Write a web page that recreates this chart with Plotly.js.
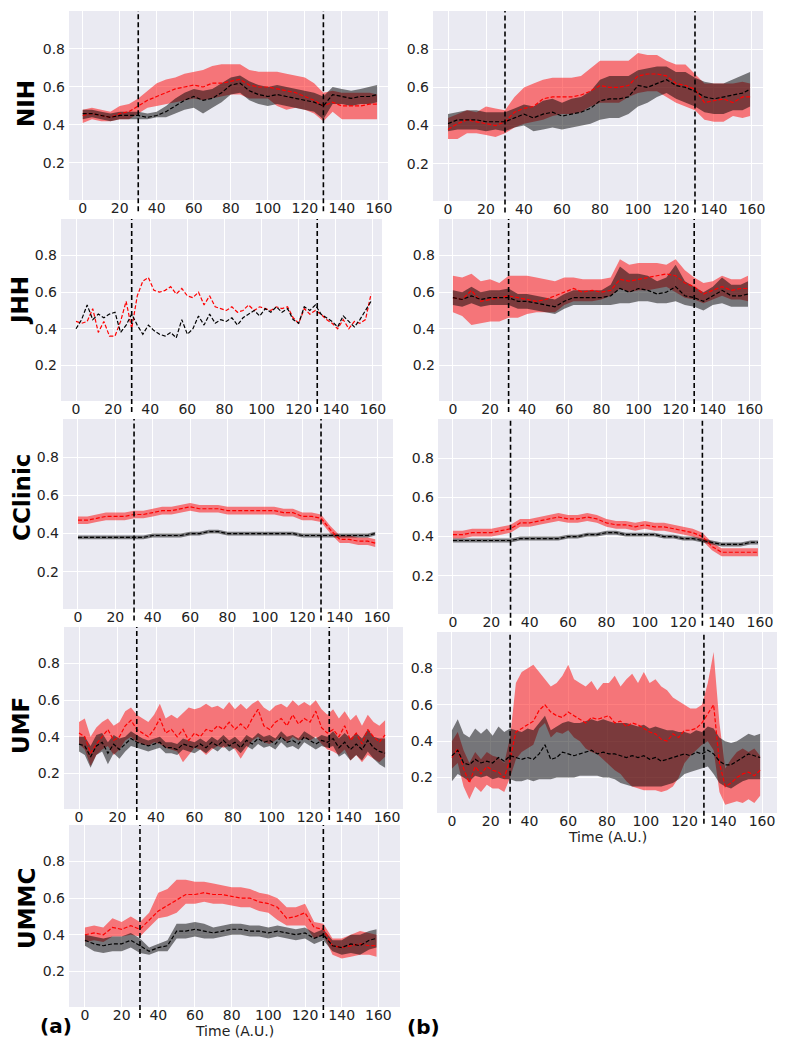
<!DOCTYPE html>
<html><head><meta charset="utf-8">
<script src="https://cdn.plot.ly/plotly-3.0.1.min.js"></script>
<style>html,body{margin:0;padding:0;background:#fff}#chart{width:787px;height:1050px}</style>
</head><body><div id="chart"></div>
<script>
// ---------------- DATA ----------------
const T  = [0,5,10,15,20,25,30,35,40,45,50,55,60,65,70,75,80,85,90,95,100,105,110,115,120,125,130,135,140,145,150,155,159];
const TJ = [0,3,6,9,12,15,18,21,24,27,30,33,36,39,42,45,48,51,54,57,60,63,66,69,72,75,78,81,84,87,90,93,96,99,102,105,108,111,114,117,120,123,126,129,132,135,138,141,144,147,150,153,156,159];
const XTICKS = [0,20,40,60,80,100,120,140,160];
const YTICKS = [0.2,0.4,0.6,0.8];
const STIM = [30,130];
const SITES = ['NIH','JHH','CClinic','UMF','UMMC'];

// NIH (a)
const nihA_bMean=[.46,.46,.45,.44,.45,.45,.45,.44,.45,.47,.50,.53,.55,.53,.54,.57,.61,.62,.58,.56,.55,.56,.55,.54,.53,.52,.50,.56,.55,.54,.55,.55,.56];
const nihA_bLo  =[.43,.44,.43,.42,.43,.43,.43,.43,.44,.44,.46,.48,.49,.46,.49,.52,.56,.57,.53,.51,.50,.51,.50,.49,.48,.47,.43,.51,.51,.50,.51,.51,.52];
const nihA_bHi  =[.48,.48,.47,.46,.47,.47,.47,.46,.47,.50,.54,.57,.59,.58,.59,.62,.65,.66,.63,.61,.60,.61,.60,.59,.58,.57,.55,.60,.59,.58,.59,.60,.61];
const nihA_rMean=[.45,.46,.45,.44,.46,.47,.50,.53,.55,.57,.59,.60,.61,.60,.62,.62,.63,.64,.61,.60,.60,.59,.58,.57,.55,.53,.50,.52,.50,.50,.50,.51,.51];
const nihA_rLo  =[.41,.43,.42,.42,.43,.43,.46,.49,.50,.51,.52,.53,.54,.53,.54,.55,.56,.56,.54,.54,.54,.50,.48,.49,.48,.46,.42,.47,.43,.43,.43,.43,.43];
const nihA_rHi  =[.48,.49,.48,.47,.50,.51,.54,.58,.62,.64,.65,.67,.68,.69,.71,.72,.72,.72,.69,.68,.68,.68,.67,.66,.65,.62,.57,.58,.57,.57,.57,.57,.56];
// NIH (b)
const nihB_bMean=[.41,.43,.43,.43,.42,.42,.42,.44,.46,.44,.46,.47,.45,.46,.47,.49,.53,.54,.54,.55,.61,.60,.62,.64,.61,.60,.58,.55,.54,.55,.56,.57,.59];
const nihB_bLo  =[.37,.38,.38,.38,.37,.38,.37,.39,.40,.37,.38,.39,.38,.39,.40,.41,.43,.44,.44,.46,.50,.52,.55,.57,.54,.52,.50,.47,.46,.46,.48,.48,.50];
const nihB_bHi  =[.46,.47,.48,.48,.47,.47,.47,.49,.51,.50,.53,.54,.52,.54,.55,.58,.64,.66,.66,.66,.69,.70,.71,.71,.68,.68,.65,.63,.62,.62,.64,.66,.68];
const nihB_rMean=[.38,.41,.43,.42,.41,.40,.42,.47,.49,.50,.54,.55,.55,.55,.56,.58,.61,.60,.60,.61,.66,.67,.67,.66,.62,.61,.59,.52,.53,.54,.52,.55,.55];
const nihB_rLo  =[.33,.33,.36,.36,.35,.34,.36,.39,.41,.42,.43,.45,.46,.46,.47,.50,.52,.52,.52,.55,.57,.58,.58,.55,.52,.50,.48,.43,.42,.42,.45,.44,.45];
const nihB_rHi  =[.44,.46,.48,.47,.50,.49,.48,.55,.60,.62,.64,.65,.65,.65,.66,.70,.74,.74,.74,.74,.78,.77,.77,.74,.72,.72,.67,.62,.62,.62,.62,.63,.62];
// JHH (a) - single traces, sampled on TJ
const jhhA_r=[.44,.43,.44,.51,.38,.44,.36,.36,.44,.55,.40,.58,.66,.68,.61,.60,.61,.63,.59,.62,.58,.57,.60,.53,.58,.52,.51,.50,.52,.49,.50,.53,.50,.52,.51,.50,.52,.51,.52,.46,.43,.51,.48,.50,.48,.45,.43,.40,.45,.40,.44,.43,.45,.59];
const jhhA_b=[.40,.45,.53,.45,.48,.46,.48,.49,.38,.42,.48,.42,.37,.42,.39,.37,.36,.38,.35,.45,.37,.40,.47,.42,.48,.43,.45,.44,.46,.42,.46,.48,.50,.47,.51,.49,.52,.49,.51,.45,.43,.52,.50,.53,.48,.46,.44,.41,.47,.44,.41,.45,.50,.55];
// JHH (b)
const jhhB_bMean=[.57,.56,.58,.56,.57,.57,.57,.55,.55,.54,.53,.52,.55,.57,.57,.57,.57,.58,.62,.60,.62,.61,.59,.60,.63,.58,.57,.55,.58,.61,.58,.58,.59];
const jhhB_bLo  =[.53,.52,.54,.52,.53,.53,.53,.51,.51,.50,.49,.48,.51,.53,.53,.53,.53,.53,.54,.54,.55,.55,.54,.54,.55,.53,.52,.50,.53,.54,.52,.52,.52];
const jhhB_bHi  =[.61,.60,.63,.60,.61,.61,.62,.59,.59,.58,.57,.56,.59,.61,.61,.61,.61,.64,.74,.70,.70,.69,.66,.68,.75,.66,.63,.60,.63,.68,.64,.64,.66];
const jhhB_rMean=[.57,.56,.61,.55,.56,.57,.58,.57,.56,.55,.56,.58,.60,.62,.60,.61,.60,.61,.67,.66,.67,.68,.69,.70,.69,.65,.63,.59,.61,.63,.61,.62,.62];
const jhhB_rLo  =[.49,.47,.42,.43,.44,.44,.46,.46,.48,.49,.49,.49,.53,.55,.55,.55,.56,.58,.62,.60,.61,.61,.62,.63,.60,.57,.56,.54,.56,.58,.56,.56,.55];
const jhhB_rHi  =[.69,.68,.70,.66,.67,.65,.69,.69,.69,.68,.67,.66,.68,.68,.67,.67,.67,.68,.78,.75,.76,.76,.76,.75,.78,.72,.68,.65,.66,.69,.67,.67,.69];
// CClinic (a)
const ccA_bMean=[.38,.38,.38,.38,.38,.38,.38,.38,.39,.39,.39,.39,.40,.40,.41,.41,.40,.40,.40,.40,.40,.40,.40,.40,.39,.39,.39,.39,.39,.39,.39,.39,.40];
const ccA_bLo  =[.37,.37,.37,.37,.37,.37,.37,.37,.38,.38,.38,.38,.39,.39,.40,.40,.39,.39,.39,.39,.39,.39,.39,.39,.38,.38,.38,.38,.38,.38,.38,.38,.39];
const ccA_bHi  =[.39,.39,.39,.39,.39,.39,.39,.39,.40,.40,.40,.40,.41,.41,.42,.42,.41,.41,.41,.41,.41,.41,.41,.41,.40,.40,.40,.40,.40,.40,.40,.40,.41];
const ccA_rMean=[.47,.47,.48,.49,.49,.49,.50,.50,.51,.52,.52,.53,.54,.53,.53,.53,.52,.52,.52,.52,.52,.52,.51,.51,.49,.49,.48,.42,.37,.37,.36,.36,.35];
const ccA_rLo  =[.45,.45,.46,.47,.47,.47,.48,.48,.49,.50,.50,.51,.52,.51,.51,.51,.50,.50,.50,.50,.50,.50,.49,.49,.47,.47,.46,.40,.35,.35,.34,.34,.33];
const ccA_rHi  =[.49,.49,.50,.51,.51,.51,.52,.52,.53,.54,.54,.55,.56,.55,.55,.55,.54,.54,.54,.54,.54,.54,.53,.53,.51,.51,.50,.44,.39,.39,.38,.38,.37];
// CClinic (b)
const ccB_bMean=[.38,.38,.38,.38,.38,.38,.38,.39,.39,.39,.39,.39,.40,.40,.41,.41,.42,.42,.41,.41,.41,.41,.40,.40,.39,.39,.38,.37,.36,.36,.36,.37,.37];
const ccB_bLo  =[.37,.37,.37,.37,.37,.37,.37,.38,.38,.38,.38,.38,.39,.39,.40,.40,.41,.41,.40,.40,.40,.40,.39,.39,.38,.38,.37,.36,.35,.35,.35,.36,.36];
const ccB_bHi  =[.39,.39,.39,.39,.39,.39,.39,.40,.40,.40,.40,.40,.41,.41,.42,.42,.43,.43,.42,.42,.42,.42,.41,.41,.40,.40,.39,.38,.37,.37,.37,.38,.38];
const ccB_rMean=[.41,.41,.42,.42,.42,.43,.44,.47,.47,.48,.49,.50,.49,.49,.50,.49,.47,.46,.46,.45,.46,.45,.45,.44,.43,.42,.40,.35,.32,.32,.32,.32,.32];
const ccB_rLo  =[.39,.39,.40,.40,.40,.41,.42,.45,.45,.46,.47,.48,.47,.47,.48,.47,.45,.44,.44,.43,.44,.43,.43,.42,.41,.40,.38,.33,.30,.30,.30,.30,.30];
const ccB_rHi  =[.43,.43,.44,.44,.44,.45,.46,.49,.49,.50,.51,.52,.51,.51,.52,.51,.49,.48,.48,.47,.48,.47,.47,.46,.45,.44,.42,.37,.34,.34,.34,.34,.34];
// UMF (a) - sampled on TJ
const umfA_bMean=[.36,.35,.29,.35,.37,.31,.36,.33,.36,.39,.37,.36,.35,.36,.37,.34,.34,.33,.36,.35,.34,.36,.34,.37,.35,.38,.35,.37,.34,.38,.36,.39,.37,.38,.36,.40,.37,.38,.36,.40,.38,.36,.38,.37,.39,.34,.37,.33,.36,.33,.38,.34,.32,.31];
const umfA_bLo  =[.32,.30,.23,.30,.32,.25,.31,.28,.32,.35,.34,.33,.32,.33,.34,.31,.31,.30,.33,.32,.31,.33,.31,.34,.32,.35,.32,.34,.31,.35,.33,.36,.34,.35,.33,.37,.34,.35,.33,.37,.35,.33,.35,.34,.35,.29,.31,.27,.30,.27,.32,.28,.25,.23];
const umfA_bHi  =[.40,.40,.35,.41,.42,.37,.41,.39,.40,.43,.41,.39,.38,.39,.40,.37,.37,.36,.39,.38,.37,.39,.37,.40,.38,.41,.38,.40,.37,.41,.39,.42,.40,.41,.39,.43,.40,.41,.39,.43,.41,.39,.41,.40,.43,.39,.42,.39,.42,.39,.44,.40,.39,.39];
const umfA_rMean=[.42,.40,.31,.36,.40,.44,.38,.40,.46,.49,.44,.42,.40,.44,.50,.42,.44,.40,.44,.38,.42,.40,.44,.43,.46,.44,.48,.44,.47,.44,.50,.55,.46,.44,.48,.50,.46,.52,.47,.50,.48,.54,.45,.42,.44,.40,.46,.38,.42,.36,.44,.40,.37,.41];
const umfA_rLo  =[.36,.33,.24,.30,.33,.35,.30,.33,.38,.40,.37,.36,.35,.37,.36,.34,.33,.32,.26,.30,.34,.33,.30,.33,.35,.34,.35,.33,.28,.33,.38,.40,.37,.36,.38,.40,.37,.40,.38,.39,.38,.40,.36,.33,.32,.30,.33,.27,.30,.26,.30,.28,.26,.29];
const umfA_rHi  =[.48,.50,.40,.45,.48,.50,.46,.48,.54,.56,.52,.50,.48,.52,.58,.50,.52,.50,.53,.56,.55,.56,.58,.56,.57,.55,.59,.55,.58,.55,.58,.60,.56,.54,.57,.58,.56,.60,.57,.59,.57,.60,.55,.52,.55,.50,.54,.49,.52,.46,.52,.48,.46,.49];
// UMF (b) - sampled on TJ
const umfB_bMean=[.32,.35,.28,.27,.30,.28,.29,.28,.31,.29,.32,.31,.30,.31,.30,.33,.38,.30,.31,.34,.33,.32,.33,.34,.35,.33,.34,.33,.33,.32,.31,.32,.31,.32,.30,.31,.29,.30,.31,.32,.33,.32,.34,.33,.35,.33,.29,.27,.27,.29,.31,.33,.32,.31];
const umfB_bLo  =[.18,.22,.20,.18,.21,.20,.21,.19,.20,.19,.19,.18,.18,.19,.18,.19,.19,.19,.20,.20,.20,.20,.21,.21,.21,.21,.20,.20,.19,.17,.16,.15,.15,.15,.15,.15,.15,.16,.17,.19,.22,.23,.24,.25,.26,.22,.17,.15,.14,.16,.18,.19,.19,.19];
const umfB_bHi  =[.46,.52,.44,.42,.47,.44,.47,.43,.48,.45,.47,.46,.45,.47,.46,.50,.54,.46,.48,.50,.51,.50,.50,.51,.52,.51,.52,.51,.50,.50,.50,.49,.48,.49,.47,.48,.47,.46,.46,.45,.45,.44,.46,.45,.48,.47,.42,.40,.39,.40,.42,.44,.43,.44];
const umfB_rMean=[.31,.36,.25,.17,.26,.22,.26,.24,.23,.20,.30,.45,.47,.49,.51,.57,.60,.56,.54,.53,.56,.54,.52,.50,.53,.52,.53,.54,.50,.51,.48,.50,.49,.47,.45,.44,.41,.40,.44,.42,.46,.46,.47,.50,.55,.60,.28,.15,.17,.20,.22,.23,.21,.24];
const umfB_rLo  =[.25,.28,.15,.08,.15,.12,.16,.14,.14,.12,.20,.30,.34,.36,.38,.47,.50,.42,.45,.44,.46,.42,.40,.36,.34,.33,.30,.27,.24,.22,.18,.15,.14,.13,.13,.13,.12,.13,.15,.20,.28,.32,.35,.38,.40,.35,.12,.05,.06,.07,.06,.08,.06,.10];
const umfB_rHi  =[.40,.45,.35,.28,.34,.30,.34,.32,.31,.28,.42,.72,.78,.80,.82,.78,.74,.70,.72,.76,.82,.74,.72,.70,.73,.68,.72,.72,.76,.70,.74,.77,.72,.78,.72,.74,.70,.68,.64,.62,.60,.58,.58,.60,.72,.89,.50,.25,.30,.34,.36,.34,.36,.32];
// UMMC (a)
const ummcA_bMean=[.37,.35,.34,.35,.35,.37,.34,.31,.33,.34,.42,.42,.43,.42,.41,.42,.43,.43,.42,.42,.41,.42,.41,.40,.41,.38,.40,.34,.33,.35,.34,.37,.38];
const ummcA_bLo  =[.34,.31,.30,.31,.31,.33,.30,.29,.31,.31,.38,.38,.39,.38,.38,.39,.40,.40,.39,.39,.38,.39,.38,.37,.38,.35,.37,.31,.29,.30,.29,.32,.33];
const ummcA_bHi  =[.40,.39,.38,.39,.39,.41,.38,.33,.35,.37,.46,.46,.47,.46,.44,.45,.46,.46,.45,.45,.44,.45,.44,.43,.44,.41,.43,.37,.37,.40,.40,.42,.43];
const ummcA_rMean=[.40,.41,.40,.44,.43,.45,.43,.48,.53,.56,.59,.62,.62,.63,.62,.62,.61,.60,.60,.58,.57,.55,.49,.50,.52,.44,.43,.34,.33,.34,.35,.34,.34];
const ummcA_rLo  =[.36,.37,.36,.39,.39,.40,.39,.44,.49,.50,.52,.57,.57,.58,.57,.57,.56,.55,.55,.53,.52,.48,.45,.45,.45,.38,.40,.29,.27,.28,.29,.29,.28];
const ummcA_rHi  =[.44,.45,.44,.49,.47,.50,.47,.52,.63,.65,.70,.70,.69,.69,.68,.67,.66,.66,.65,.63,.62,.60,.55,.55,.57,.47,.46,.38,.38,.40,.42,.41,.40];

// ---------------- LAYOUT / STYLE ----------------
const W = 787, H = 1050;
const FONT = 'DejaVu Sans, Verdana, sans-serif';
const RED_FILL = 'rgba(255,0,0,0.5)', BLK_FILL = 'rgba(0,0,0,0.5)';

// box = [left, right, top, bottom] in px
const panels = [
  {box:[69,388,11,200],  xr:[-7.4,164.9], t:T,  b:[nihA_bMean,nihA_bLo,nihA_bHi], r:[nihA_rMean,nihA_rLo,nihA_rHi]},
  {box:[61,382,219,401], xr:[-8.1,164.9], t:TJ, b:[jhhA_b], r:[jhhA_r]},
  {box:[63,393,419,609], xr:[-8.0,168.5], t:T,  b:[ccA_bMean,ccA_bLo,ccA_bHi], r:[ccA_rMean,ccA_rLo,ccA_rHi]},
  {box:[64,403,627,809], xr:[-7.8,168.3], t:TJ, b:[umfA_bMean,umfA_bLo,umfA_bHi], r:[umfA_rMean,umfA_rLo,umfA_rHi]},
  {box:[69,400,825,1007],xr:[-8.7,171.8], t:T,  b:[ummcA_bMean,ummcA_bLo,ummcA_bHi], r:[ummcA_rMean,ummcA_rLo,ummcA_rHi]},
  {box:[433,763,11,201], xr:[-7.9,165.8], t:T,  b:[nihB_bMean,nihB_bLo,nihB_bHi], r:[nihB_rMean,nihB_rLo,nihB_rHi]},
  {box:[439,761,219,401],xr:[-7.5,166.0], t:T,  b:[jhhB_bMean,jhhB_bLo,jhhB_bHi], r:[jhhB_rMean,jhhB_rLo,jhhB_rHi]},
  {box:[438,773,419,614],xr:[-7.8,166.8], t:T,  b:[ccB_bMean,ccB_bLo,ccB_bHi], r:[ccB_rMean,ccB_rLo,ccB_rHi]},
  {box:[437,777,632,813],xr:[-7.7,167.7], t:TJ, b:[umfB_bMean,umfB_bLo,umfB_bHi], r:[umfB_rMean,umfB_rLo,umfB_rHi]}
];

const data = [];
const layout = {
  width: W, height: H,
  margin: {l:0, r:0, t:0, b:0},
  paper_bgcolor: '#ffffff',
  plot_bgcolor: '#EAEAF2',
  showlegend: false,
  font: {family: FONT, size: 14, color: '#222'},
  shapes: [], annotations: []
};

panels.forEach((p, i) => {
  const n = i + 1;
  const xa = 'x' + (n === 1 ? '' : n), ya = 'y' + (n === 1 ? '' : n);
  const [l, r, t, b] = p.box;
  layout['xaxis' + (n === 1 ? '' : n)] = {
    domain: [l / W, r / W], anchor: ya, range: p.xr,
    tickvals: XTICKS, showgrid: true, gridcolor: '#ffffff', gridwidth: 1,
    zeroline: false, showline: false, ticks: '', ticklabelstandoff: -2,
    tickfont: {family: FONT, size: 14, color: '#222'}, fixedrange: true
  };
  layout['yaxis' + (n === 1 ? '' : n)] = {
    domain: [1 - b / H, 1 - t / H], anchor: xa, range: [0.005, 1.0],
    tickvals: YTICKS, ticktext: YTICKS.map(v => v.toFixed(1)),
    showgrid: true, gridcolor: '#ffffff', gridwidth: 1,
    zeroline: false, showline: false, ticks: '', ticklabelstandoff: 3,
    tickfont: {family: FONT, size: 14, color: '#222'}, fixedrange: true
  };
  const common = {xaxis: xa, yaxis: ya, type: 'scatter', mode: 'lines', hoverinfo: 'skip'};
  if (p.r.length === 3) {
    data.push({...common, x: p.t, y: p.r[1], line: {width: 0, color: 'rgba(0,0,0,0)'}});
    data.push({...common, x: p.t, y: p.r[2], line: {width: 0, color: 'rgba(0,0,0,0)'}, fill: 'tonexty', fillcolor: RED_FILL});
  }
  if (p.b.length === 3) {
    data.push({...common, x: p.t, y: p.b[1], line: {width: 0, color: 'rgba(0,0,0,0)'}});
    data.push({...common, x: p.t, y: p.b[2], line: {width: 0, color: 'rgba(0,0,0,0)'}, fill: 'tonexty', fillcolor: BLK_FILL});
  }
  data.push({...common, x: p.t, y: p.r[0], line: {width: 1.2, color: '#ff0000', dash: '4px,2px'}});
  data.push({...common, x: p.t, y: p.b[0], line: {width: 1.2, color: '#000000', dash: '4px,2px'}});
  STIM.forEach(s => {
    layout.shapes.push({type: 'line', xref: xa, yref: ya + ' domain', x0: s, x1: s, y0: -0.06, y1: 1.0,
      line: {color: '#000', width: 1.6, dash: '5px,3px'}, layer: 'above'});
  });
});

// site labels (rotated y titles)
const siteLabelPos = [[26,104],[20,301],[22,498],[21,726],[27,909]];
SITES.forEach((s, i) => {
  layout.annotations.push({text: '<b>' + s + '</b>', xref: 'paper', yref: 'paper',
    x: siteLabelPos[i][0] / W, y: 1 - siteLabelPos[i][1] / H, xanchor: 'center', yanchor: 'middle',
    textangle: -90, showarrow: false, font: {family: FONT, size: 23, color: '#000'}});
});
// x titles
[[235,1031],[607,837]].forEach(pt => {
  layout.annotations.push({text: 'Time (A.U.)', xref: 'paper', yref: 'paper', x: pt[0] / W, y: 1 - pt[1] / H,
    xanchor: 'center', yanchor: 'middle', showarrow: false, font: {family: FONT, size: 14, color: '#222'}});
});
// panel letters
[['(a)',56,1026],['(b)',424,1027]].forEach(pt => {
  layout.annotations.push({text: '<b>' + pt[0] + '</b>', xref: 'paper', yref: 'paper', x: pt[1] / W, y: 1 - pt[2] / H,
    xanchor: 'center', yanchor: 'middle', showarrow: false, font: {family: FONT, size: 20, color: '#000'}});
});

Plotly.newPlot('chart', data, layout, {staticPlot: true, displayModeBar: false});
</script></body></html>
